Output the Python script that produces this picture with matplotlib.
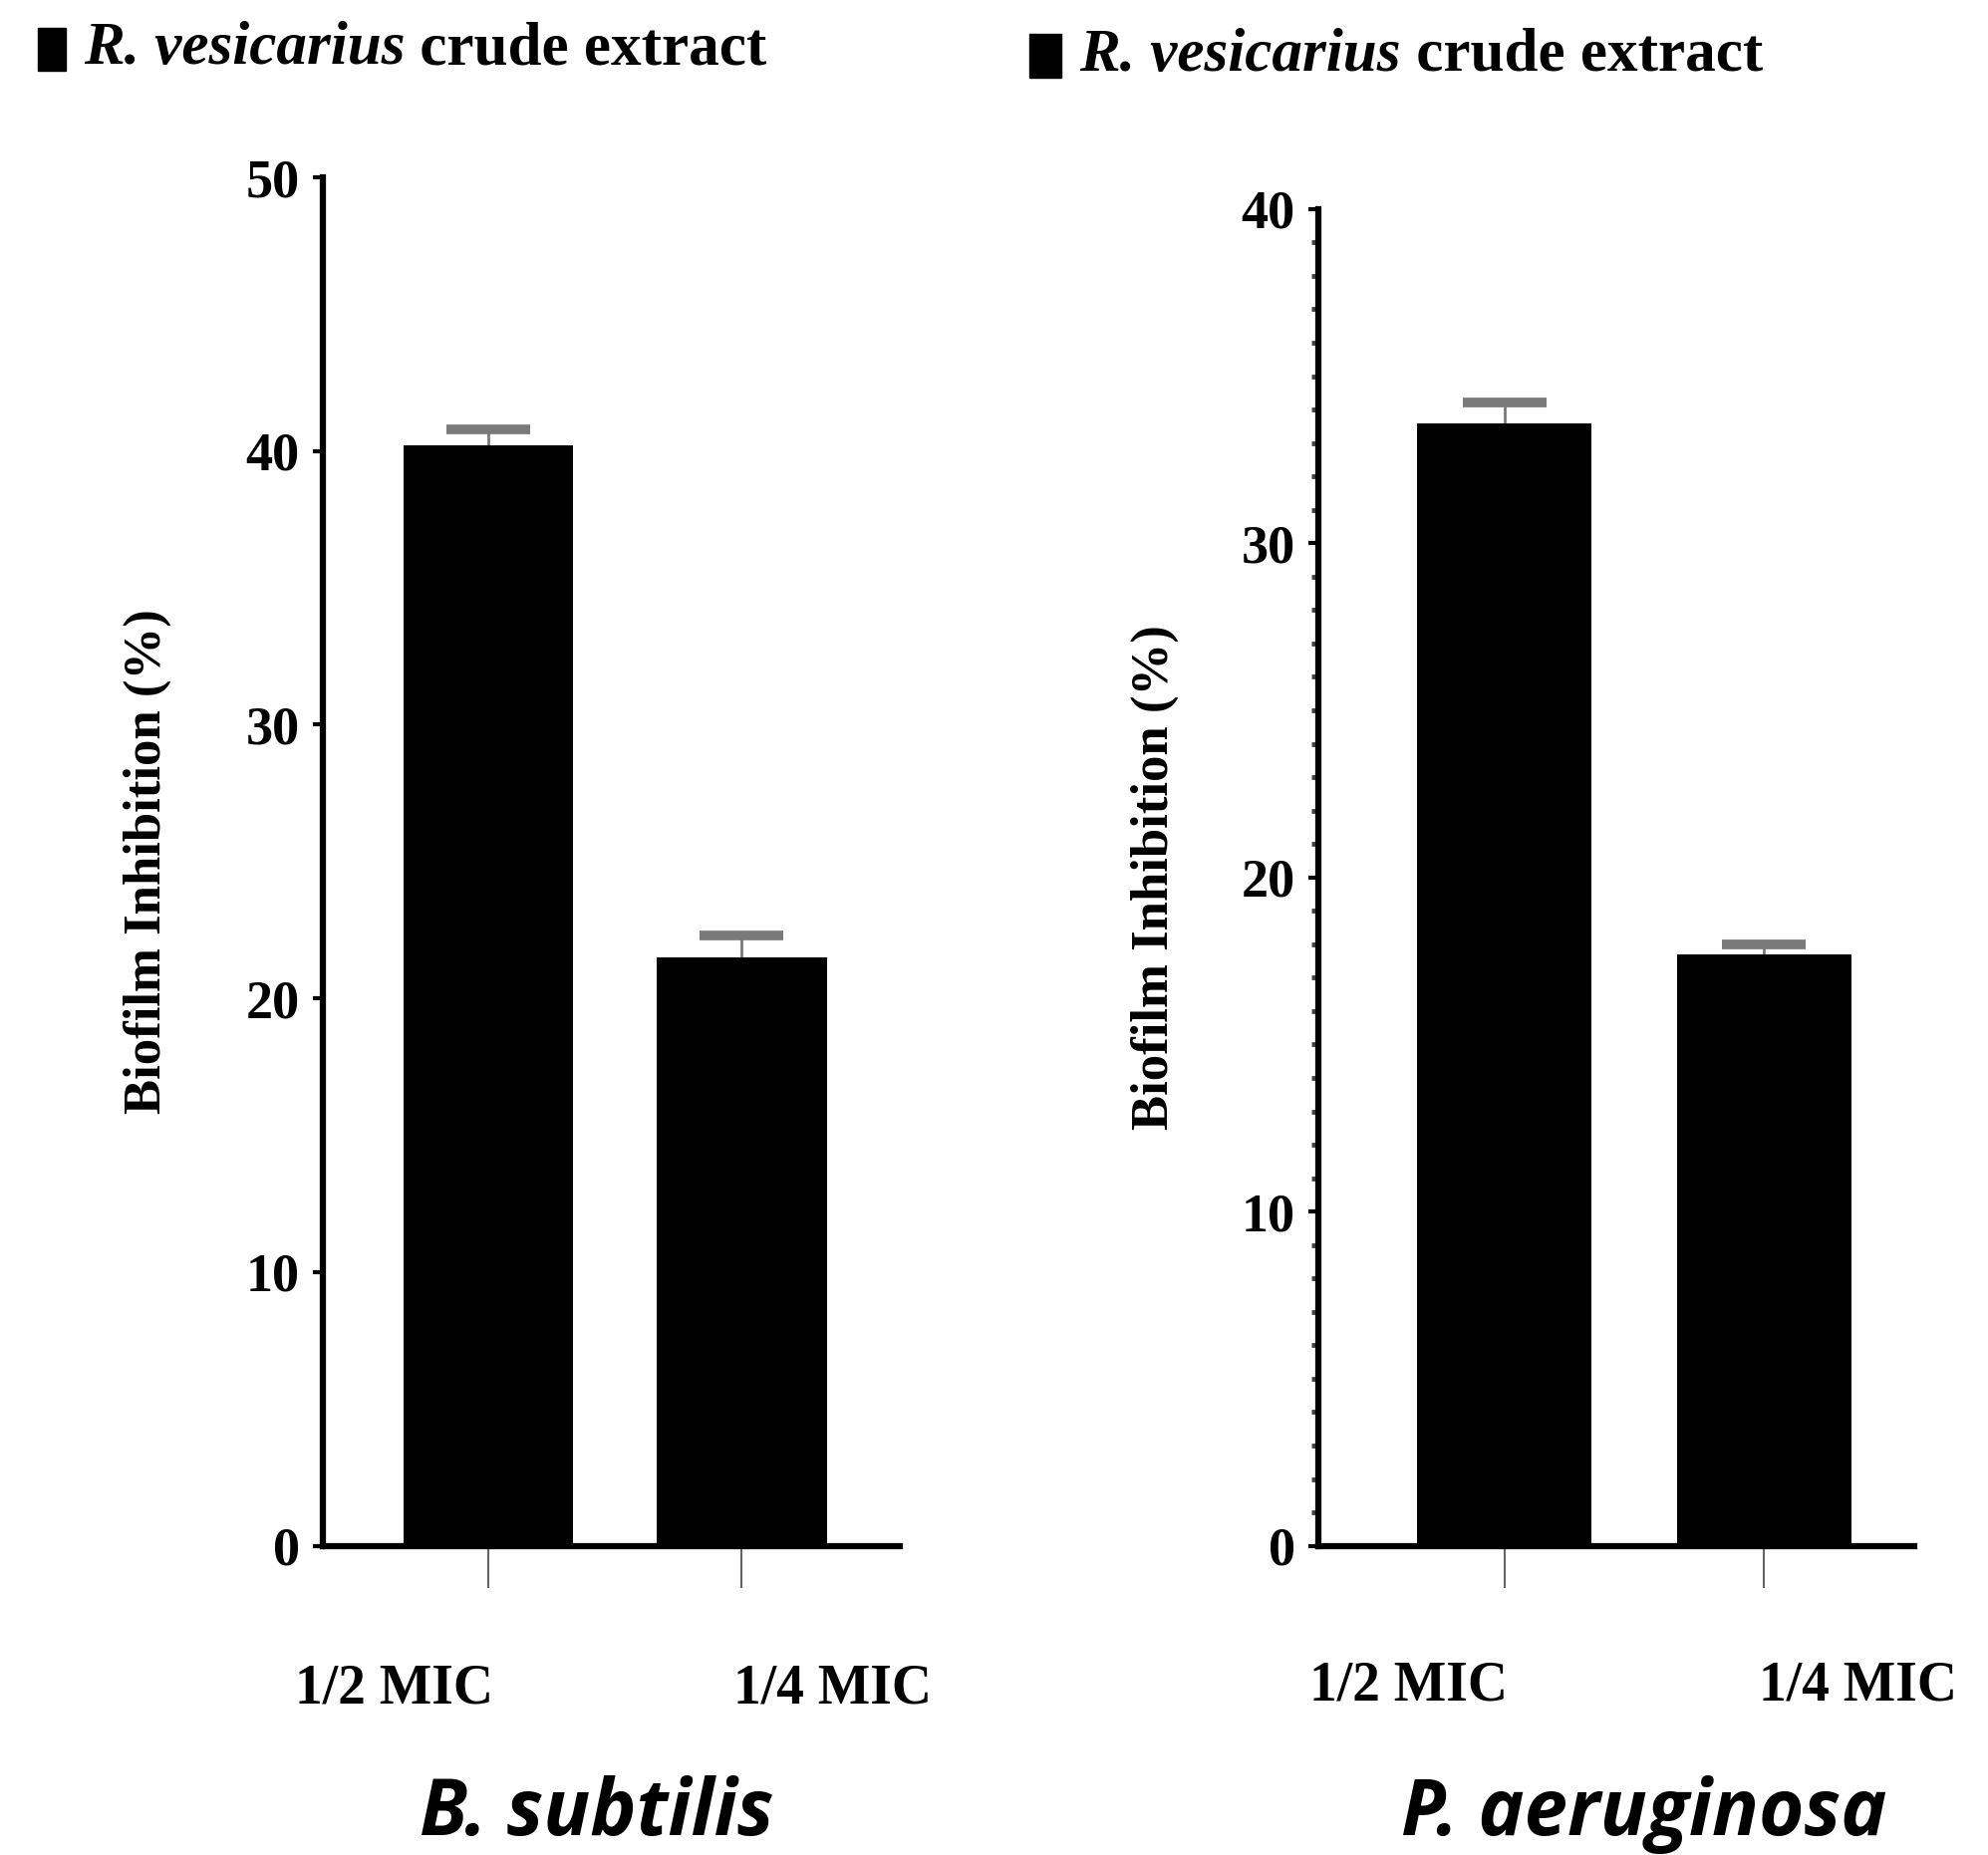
import matplotlib
matplotlib.use("Agg")
import matplotlib.pyplot as plt
from matplotlib.patches import Rectangle
from matplotlib.ticker import MultipleLocator

plt.rcParams["font.family"] = ["Liberation Serif", "DejaVu Serif"]

# data
doses = ["1/2 MIC", "1/4 MIC"]
bs_inhibition = [40.2, 21.5]
bs_err = [0.6, 0.8]
pa_inhibition = [33.6, 17.7]
pa_err = [0.6, 0.3]
organisms = ["B. subtilis", "P. aeruginosa"]

fig = plt.figure(figsize=(19.95, 18.62), dpi=100)

ax1 = fig.add_axes([0.1626, 0.1667, 0.2902, 0.7377])
ax2 = fig.add_axes([0.6633, 0.1667, 0.2997, 0.7206])

panels = [
    (ax1, bs_inhibition, bs_err, 50, None, (-0.65, 1.625), organisms[0], 0.300, 54),
    (ax2, pa_inhibition, pa_err, 40, 1, (-0.715, 1.578), organisms[1], 0.827, 45),
]

for ax, vals, errs, ymax, minor, xl, org, tx, lpad in panels:
    x = range(len(vals))
    ax.bar(x, vals, width=0.67, color="black", zorder=2)
    _, caps, _ = ax.errorbar(x, vals, yerr=[[0] * len(errs), errs], fmt="none",
                             ecolor="#7a7a7a", elinewidth=2, capsize=30,
                             capthick=7, zorder=1)
    caps[0].set_visible(False)  # only the upper cap
    ax.set_ylim(0, ymax)
    ax.set_xlim(*xl)
    ax.yaxis.set_major_locator(MultipleLocator(10))
    if minor:
        ax.yaxis.set_minor_locator(MultipleLocator(minor))
        ax.tick_params(axis="y", which="minor", length=5, width=3.5, color="#444444")
    ax.tick_params(axis="y", which="major", length=7, width=3, pad=10,
                   labelsize=39)
    for lab in ax.get_yticklabels():
        lab.set_fontweight("bold")
    ax.set_xticks(list(x))
    ax.set_xticklabels([])
    ax.tick_params(axis="x", length=30, width=1.5, color="#666666")
    for s in ("top", "right"):
        ax.spines[s].set_visible(False)
    ax.spines["left"].set_linewidth(4.5)
    ax.spines["bottom"].set_linewidth(4.5)
    for i, d in enumerate(doses):
        off = -0.37 if i == 0 else 0.36
        ax.text(i + off, -0.105, d, transform=ax.get_xaxis_transform(),
                ha="center", va="center", fontsize=40, fontweight="bold")
    ax.set_ylabel("Biofilm Inhibition (%)", fontsize=38, fontweight="bold",
                  labelpad=lpad)
    fig.text(tx, 0.022, org, ha="center", va="center", fontsize=56,
             fontweight="bold", fontstyle="italic", family="Open Sans")

# legends
for lx, ly, rw, rh in [(0.019, 0.962, 0.014, 0.023), (0.518, 0.958, 0.016, 0.024)]:
    fig.patches.append(Rectangle((lx, ly), rw, rh, transform=fig.transFigure,
                                 color="black", figure=fig))
    t1 = fig.text(lx + rw + 0.009, ly + rh / 2, "R. vesicarius", ha="left",
                  va="center", fontsize=44, fontweight="bold", fontstyle="italic")
    ax1.annotate(" crude extract", xy=(1, 0.5), xycoords=t1, ha="left",
                 va="center", fontsize=44, fontweight="bold",
                 annotation_clip=False)

fig.savefig("out.png", dpi=100)
